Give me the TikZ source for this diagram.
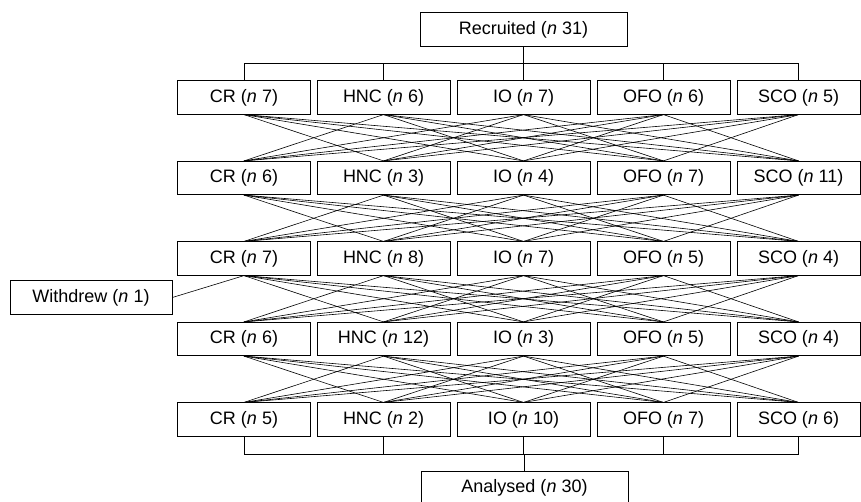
\documentclass[tikz,border=0pt]{standalone}
\usepackage{fontspec}
\setmainfont{Liberation Sans}
\begin{document}
\begin{tikzpicture}[x=1pt, y=-1pt,
	box/.style={draw, line width=0.7pt, minimum width=133pt, minimum height=33.5pt, inner sep=0pt, font=\fontsize{18}{21}\selectfont},
	link/.style={line width=0.6pt}]
\useasboundingbox (0,0) rectangle (861,501);

\node[box, minimum width=207pt] (rec) at (523.5,29.5) {Recruited (\textit{n} 31)};

% Periodos
\foreach \row/\y/\ka/\kb/\kc/\kd/\ke in {1/97.5/7/6/7/6/5, 2/178/6/3/4/7/11, 3/258.5/7/8/7/5/4, 4/339/6/12/3/5/4, 5/419.5/5/2/10/7/6}
{
	\node[box] (p\row-1) at (244,\y) {CR (\textit{n} \ka)};
	\node[box] (p\row-2) at (383.5,\y) {HNC (\textit{n} \kb)};
	\node[box] (p\row-3) at (523.5,\y) {IO (\textit{n} \kc)};
	\node[box] (p\row-4) at (663.5,\y) {OFO (\textit{n} \kd)};
	\node[box, minimum width=123pt] (p\row-5) at (798.5,\y) {SCO (\textit{n} \ke)};
}

\node[box, minimum width=162pt] (wd) at (91,297.5) {Withdrew (\textit{n} 1)};
\node[box, minimum width=207pt] (ana) at (524.5,487.75) {Analysed (\textit{n} 30)};

% Cruces
\foreach \row [evaluate=\row as \nxt using int(\row+1)] in {1,...,4}
	\foreach \i in {1,...,5}
		\foreach \j in {1,...,5}
		{
			\ifnum\i=\j\else \draw[link] (p\row-\i.south) -- (p\nxt-\j.north); \fi
		}

\draw[link] (wd.east) -- (p3-1.south);

% Reparto y recogida
\coordinate (bustop) at (0,63.5);
\coordinate (busbot) at (0,454);
\draw[link] (rec.south) -- (rec.south |- bustop);
\draw[link] (p1-1.north |- bustop) -- (p1-5.north |- bustop);
\foreach \i in {1,...,5}
	\draw[link] (p1-\i.north) -- (p1-\i.north |- bustop);

\draw[link] (ana.north) -- (ana.north |- busbot);
\draw[link] (p5-1.south |- busbot) -- (p5-5.south |- busbot);
\foreach \i in {1,...,5}
	\draw[link] (p5-\i.south) -- (p5-\i.south |- busbot);
\end{tikzpicture}
\end{document}
